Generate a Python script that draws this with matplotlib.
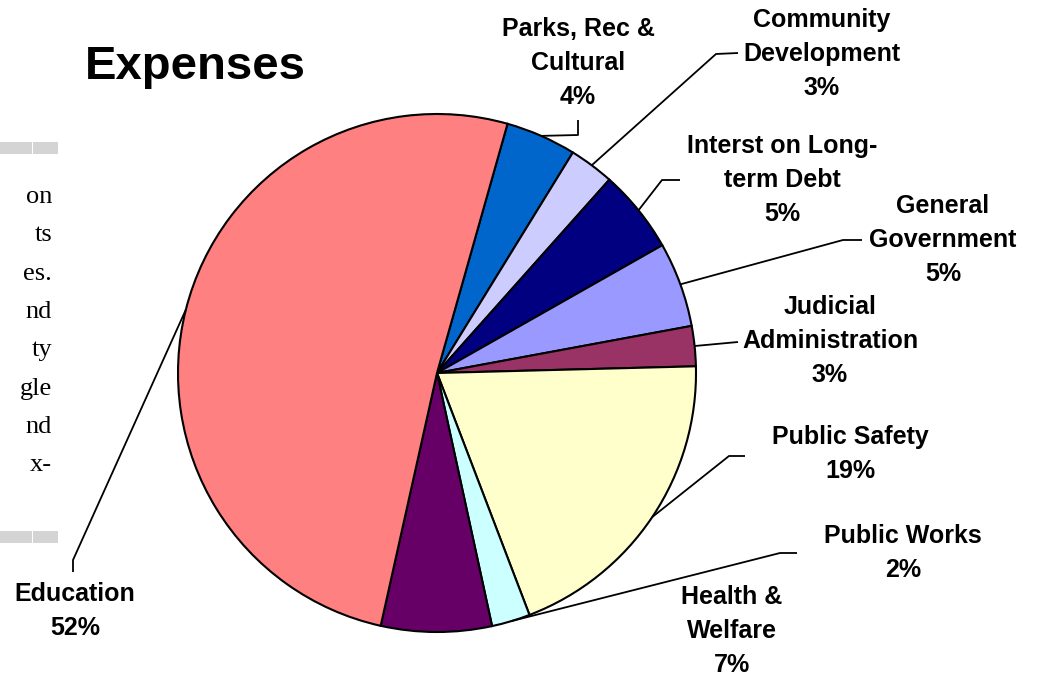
import matplotlib
matplotlib.use('Agg')
import numpy as np
import matplotlib.pyplot as plt
from matplotlib.patches import Rectangle

# ---------------------------------------------------------------- data
categories = ['Parks, Rec &\nCultural', 'Community\nDevelopment',
              'Interst on Long-\nterm Debt', 'General\nGovernment',
              'Judicial\nAdministration', 'Public Safety', 'Public Works',
              'Health &\nWelfare', 'Education']
shares = [4.4, 2.8, 5.2, 5.3, 2.5, 19.6, 2.4, 6.9, 50.9]
pct_labels = ['4%', '3%', '5%', '5%', '3%', '19%', '2%', '7%', '52%']
colors = ['#0066CC', '#CCCCFF', '#000080', '#9999FF', '#993366',
          '#FFFFCC', '#CCFFFF', '#660066', '#FF8080']

# margin text cut off at the left of the page (serif body copy)
margin_words = ['on', 'ts', 'es.', 'nd', 'ty', 'gle', 'nd', 'x-']

# ---------------------------------------------------------------- layout (pixels, y from top)
W, H = 1037, 677
CX, CY, R = 437, 373, 259
# label block centres
label_xy = [(578, 63), (822, 54), (782, 180), (943, 240), (830, 341),
            (850, 454), (903, 553), (732, 631), (75, 611)]
# leader lines: elbow and end point (None = no leader)
leaders = [((578, 135), (578, 120)), ((716, 54), (738, 53)),
           ((662, 180), (680, 180)), ((843, 240), (862, 240)),
           ((738, 342), (738, 342)), ((729, 456), (745, 456)),
           ((780, 553), (797, 553)), None, ((73, 560), (73, 572))]

plt.rcParams['font.family'] = ['Liberation Sans', 'DejaVu Sans']

fig = plt.figure(figsize=(W / 100, H / 100), dpi=100)
fig.patch.set_facecolor('white')
ax = fig.add_axes([0, 0, 1, 1])


def fy(y):
    return H - y


wedges, _ = ax.pie(shares, colors=colors, startangle=74.2, counterclock=False,
                   center=(CX, fy(CY)), radius=R, frame=True,
                   wedgeprops=dict(edgecolor='black', linewidth=1.5))
ax.set_xlim(0, W)
ax.set_ylim(0, H)
ax.set_aspect('equal')
ax.axis('off')

# labels + leader lines
LINE = 34
for w, name, pct, (lx, ly), lead in zip(wedges, categories, pct_labels,
                                        label_xy, leaders):
    lines = name.split('\n') + [pct]
    n = len(lines)
    for i, s in enumerate(lines):
        yy = ly + (i - (n - 1) / 2) * LINE
        ax.text(lx, fy(yy), s, ha='center', va='center', fontsize=18,
                fontweight='bold', color='black')
    if lead is None:
        continue
    mid = np.deg2rad((w.theta1 + w.theta2) / 2)
    sx, sy = CX + R * np.cos(mid), fy(CY) + R * np.sin(mid)
    (ex, ey), (tx, ty) = lead
    ax.plot([sx, ex, tx], [sy, fy(ey), fy(ty)], color='black', lw=1.3,
            solid_capstyle='butt', zorder=5)

# title
ax.text(85, fy(67), 'Expenses', ha='left', va='center', fontsize=34,
        fontweight='bold', color='black')

# left page margin fragments
for i, wd in enumerate(margin_words):
    ax.text(52, fy(197 + i * 38.3), wd, ha='right', va='center',
            fontsize=19, family=['Liberation Serif', 'DejaVu Serif'],
            color='black')
for yb in (148, 537):
    ax.add_patch(Rectangle((0, fy(yb + 6)), 32, 12, facecolor='#D4D4D4',
                           edgecolor='none'))
    ax.add_patch(Rectangle((33, fy(yb + 6)), 25, 12, facecolor='#D4D4D4',
                           edgecolor='none'))

fig.savefig('out.png', dpi=100, facecolor='white')
